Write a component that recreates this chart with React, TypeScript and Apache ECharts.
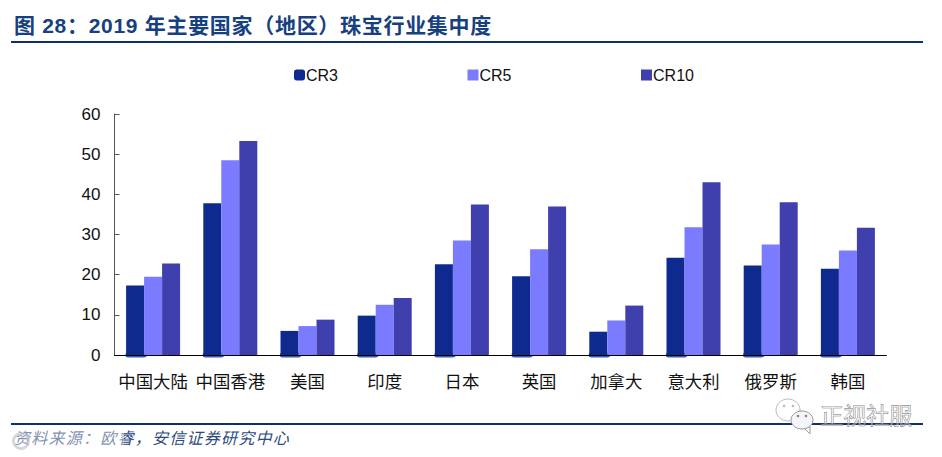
import React, { useEffect, useRef } from "react";
import * as echarts from "echarts";

const categories = ["中国大陆", "中国香港", "美国", "印度", "日本", "英国", "加拿大", "意大利", "俄罗斯", "韩国"];
const cr3 = [17.3, 37.8, 6, 9.8, 22.6, 19.6, 5.8, 24.2, 22.3, 21.5];
const cr5 = [19.5, 48.5, 7.2, 12.5, 28.5, 26.3, 8.6, 31.8, 27.5, 26];
const cr10 = [22.8, 53.3, 8.8, 14.2, 37.5, 37, 12.3, 43, 38, 31.7];
const titleText = "图 28：2019 年主要国家（地区）珠宝行业集中度";
const sourceText = "资料来源：欧睿，安信证券研究中心";
const markText = "正视社服";

const NAVY = "#0e2f6e";
const CJK = '"Liberation Sans", "Noto Sans CJK SC"';
const spacingCss = `
svg text[style*="bold"] { letter-spacing: 0.7px; }
svg text[style*="italic"] { letter-spacing: 1.25px; }
`;

export default function App() {
  const ref = useRef<HTMLDivElement>(null);
  useEffect(() => {
    const chart = echarts.init(ref.current!, undefined, { renderer: "svg" });
    const bar = (name: string, data: number[], color: string) => ({
      name,
      type: "bar" as const,
      data,
      barWidth: 18,
      barGap: "0%",
      itemStyle: { color },
      z: 2,
    });
    chart.setOption({
      animation: false,
      backgroundColor: "#fff",
      grid: { left: 114.5, top: 114, width: 772, height: 241, containLabel: false },
      legend: {
        left: 294,
        top: 67,
        itemWidth: 11,
        itemHeight: 11,
        itemGap: 129.5,
        padding: 0,
        textStyle: { fontFamily: "Liberation Sans", fontSize: 16, color: "#111", padding: [0, 0, 0, -4] },
        data: [{ name: "CR3", icon: "roundRect" }, { name: "CR5", icon: "rect" }, { name: "CR10", icon: "rect" }],
      },
      xAxis: {
        type: "category",
        data: categories,
        z: 5,
        axisLine: { lineStyle: { color: "#000", width: 1 } },
        axisTick: { inside: true, length: 5, lineStyle: { color: "#333" } },
        axisLabel: { fontFamily: "Noto Sans CJK SC", fontSize: 17.4, color: "#111", margin: 17, interval: 0 },
      },
      yAxis: {
        type: "value",
        min: 0,
        max: 60,
        interval: 10,
        splitLine: { show: false },
        axisLine: { show: true, lineStyle: { color: "#555", width: 1 } },
        axisTick: { show: true, inside: true, length: 5, lineStyle: { color: "#555" } },
        axisLabel: { fontFamily: "Liberation Sans", fontSize: 17, color: "#111", margin: 14 },
      },
      series: [
        bar("CR3", cr3, "#0f2a8f"),
        bar("CR5", cr5, "#7b7bff"),
        bar("CR10", cr10, "#3f3fae"),
        {
          name: "CR3基线",
          type: "scatter",
          data: categories.map(() => 0),
          symbol: "roundRect",
          symbolSize: [21, 5],
          symbolOffset: [-17, 0],
          itemStyle: { color: "#0f2a8f" },
          silent: true,
          z: 1,
        },
      ],
      graphic: [
        { type: "text", left: 14, top: 15, style: { text: titleText, fontFamily: CJK, fontWeight: "bold", fontSize: 21, fill: "#17407f" } },
        { type: "rect", shape: { x: 11, y: 41, width: 912, height: 2 }, style: { fill: NAVY } },
        { type: "rect", shape: { x: 11, y: 423, width: 912, height: 2 }, style: { fill: NAVY } },
        { type: "text", left: 14, top: 430, style: { text: sourceText, fontFamily: CJK, fontStyle: "italic", fontSize: 16, fill: "#2b4a80" } },
        { type: "rect", shape: { x: 12, y: 430, width: 112, height: 20 }, style: { fill: "rgba(255,255,255,0.4)" } },
        { type: "ring", shape: { cx: 21, cy: 441, r: 9, r0: 6 }, style: { fill: "rgba(190,190,190,0.6)" } },
        { type: "ellipse", shape: { cx: 788, cy: 410, rx: 12, ry: 11 }, style: { fill: "#fff", stroke: "#bbb", lineWidth: 1 } },
        { type: "circle", shape: { cx: 784, cy: 406, r: 1.3 }, style: { fill: "#bbb" } },
        { type: "circle", shape: { cx: 793, cy: 406, r: 1.3 }, style: { fill: "#bbb" } },
        { type: "polygon", shape: { points: [[804, 428], [810, 434], [810, 427]] }, style: { fill: "#fff", stroke: "#999", lineWidth: 1 } },
        { type: "ellipse", shape: { cx: 802, cy: 420, rx: 11, ry: 9 }, style: { fill: "#f4f5fa", stroke: "#999", lineWidth: 1 } },
        { type: "circle", shape: { cx: 798, cy: 416, r: 1.3 }, style: { fill: "#888" } },
        { type: "circle", shape: { cx: 806, cy: 416, r: 1.3 }, style: { fill: "#888" } },
        { type: "text", left: 820, top: 402, style: { text: markText, fontFamily: "Noto Sans CJK SC", fontSize: 23, fill: "rgba(255,255,255,0.35)", stroke: "#777", lineWidth: 0.6 } },
      ],
    });
    return () => chart.dispose();
  }, []);
  return (
    <>
      <style>{spacingCss}</style>
      <div ref={ref} style={{ position: "absolute", left: 0, top: 0, width: 942, height: 457 }} />
    </>
  );
}
